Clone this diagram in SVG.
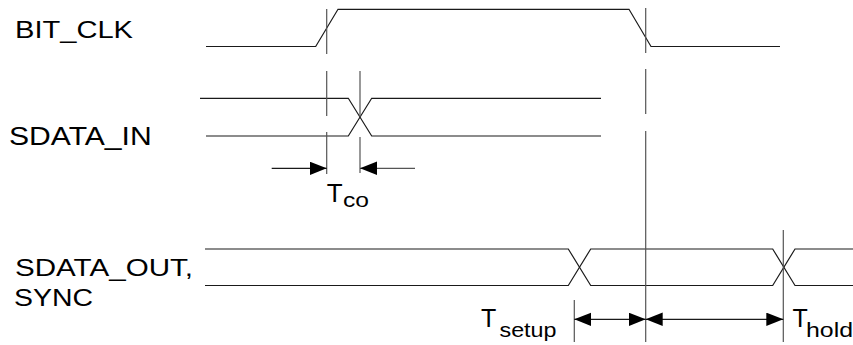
<svg xmlns="http://www.w3.org/2000/svg" width="853" height="345" viewBox="0 0 853 345">
<style>
.w{fill:none;stroke:#1a1a1a;stroke-width:1.2}
.g{fill:none;stroke:#555;stroke-width:1.2}
.a{fill:none;stroke:#1a1a1a;stroke-width:1.2}
text{font-family:"Liberation Sans",Arial,sans-serif;fill:#000}
</style>
<defs>
<marker id="ah" markerUnits="userSpaceOnUse" markerWidth="18" markerHeight="14" refX="17" refY="6.7" orient="auto-start-reverse">
<path d="M0,0 L17,6.7 L0,13.4 Z" fill="#000"/>
</marker>
</defs>
<rect width="853" height="345" fill="#fff"/>
<g id="bit_clk">
<text x="15" y="37.7" font-size="23" textLength="118" lengthAdjust="spacingAndGlyphs">BIT_CLK</text>
<path class="w" d="M206,46.5 H315.7 L338,9.3 H629 L651,46.5 H780"/>
</g>
<g id="sdata_in">
<text x="9" y="145" font-size="25" textLength="142.7" lengthAdjust="spacingAndGlyphs">SDATA_IN</text>
<path class="w" d="M200,98.3 H348.3 L371.7,136 H601"/>
<path class="w" d="M206,136 H348.3 L371.7,98.3 H601"/>
</g>
<g id="sdata_out">
<text x="15" y="276" font-size="24" textLength="178" lengthAdjust="spacingAndGlyphs">SDATA_OUT,</text>
<text x="14" y="306" font-size="24" textLength="79" lengthAdjust="spacingAndGlyphs">SYNC</text>
<path class="w" d="M205,249 H568.3 L590.7,285.5 H772.7 L795,249 H853"/>
<path class="w" d="M205,285.5 H568.3 L590.7,249 H772.7 L795,285.5 H853"/>
</g>
<g id="tco_label">
<text x="326.7" y="201.7" font-size="26">T</text>
<text x="343" y="207.3" font-size="21" textLength="26" lengthAdjust="spacingAndGlyphs">co</text>
</g>
<g id="tsetup_label">
<text x="481" y="327.3" font-size="25">T</text>
<text x="499.5" y="336.7" font-size="20" textLength="57" lengthAdjust="spacingAndGlyphs">setup</text>
</g>
<g id="thold_label">
<text x="792.5" y="326.7" font-size="25">T</text>
<text x="806" y="336.7" font-size="20" textLength="47" lengthAdjust="spacingAndGlyphs">hold</text>
</g>
<g id="connectors">
<path class="g" d="M326.7,9 V54 M326.7,71 V116 M326.7,132 V174"/>
<path class="g" d="M360,71 V117 M360,137 V173"/>
<path class="g" d="M645.7,8 V53 M645.7,69 V114 M645.7,131 V342"/>
<path class="g" d="M783.3,230 V342"/>
<path class="g" d="M574.3,300 V342"/>
<line class="a" x1="271.7" y1="168.3" x2="326.7" y2="168.3" marker-end="url(#ah)"/>
<line class="g" x1="415" y1="168.3" x2="360" y2="168.3" marker-end="url(#ah)"/>
<line class="a" x1="574.3" y1="319.3" x2="645.7" y2="319.3" marker-start="url(#ah)" marker-end="url(#ah)"/>
<line class="a" x1="645.7" y1="319.3" x2="783.3" y2="319.3" marker-start="url(#ah)" marker-end="url(#ah)"/>
</g>
</svg>
